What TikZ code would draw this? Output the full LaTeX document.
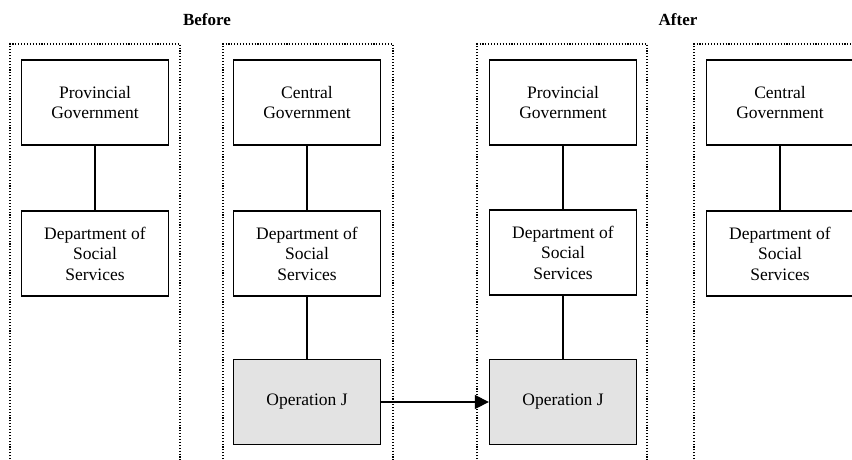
\documentclass[tikz,border=0pt]{standalone}
\usepackage{fontspec}
\setmainfont{Liberation Serif}
\usetikzlibrary{arrows.meta}
\begin{document}
\begin{tikzpicture}[x=1pt,y=-1pt,
  orgbox/.style={draw, line width=1.3pt, minimum width=147pt, minimum height=85pt, inner sep=0pt, align=center, font=\fontsize{17.5}{20.5}\selectfont},
  opbox/.style={orgbox, fill=gray!22},
  frame/.style={line width=1.3pt, dash pattern=on 1.1pt off 1.8pt},
  link/.style={line width=1.3pt},
  title/.style={font=\fontsize{17}{20}\selectfont\bfseries}]
\useasboundingbox (0,0) rectangle (852,460);
% frames
\draw[frame] (10,462) -- (10,44) -- (180,44) -- (180,462);
\draw[frame] (223,462) -- (223,44) -- (393,44) -- (393,462);
\draw[frame] (477,462) -- (477,44) -- (647,44) -- (647,462);
\draw[frame] (694,462) -- (694,44) -- (860,44);
% titles
\node[title] (before) at (207,20) {Before};
\node[title] (after) at (678,20) {After};
% column 1
\node[orgbox] (pg1) at (95,102.5) {Provincial\\Government};
\node[orgbox] (dss1) at (95,253.5) {Department of\\Social\\Services};
% column 2
\node[orgbox] (cg2) at (307,102.5) {Central\\Government};
\node[orgbox] (dss2) at (307,253.5) {Department of\\Social\\Services};
\node[opbox] (op2) at (307,402) {Operation J};
% column 3
\node[orgbox] (pg3) at (563,102.5) {Provincial\\Government};
\node[orgbox] (dss3) at (563,252.5) {Department of\\Social\\Services};
\node[opbox] (op3) at (563,402) {Operation J};
% column 4
\node[orgbox] (cg4) at (780,102.5) {Central\\Government};
\node[orgbox] (dss4) at (780,253.5) {Department of\\Social\\Services};
% links
\draw[link] (pg1) -- (dss1);
\draw[link] (cg2) -- (dss2);
\draw[link] (dss2) -- (op2);
\draw[link] (pg3) -- (dss3);
\draw[link] (dss3) -- (op3);
\draw[link] (cg4) -- (dss4);
\draw[link, -{Triangle[length=14pt, width=14pt]}] (op2) -- (op3);
\end{tikzpicture}
\end{document}
